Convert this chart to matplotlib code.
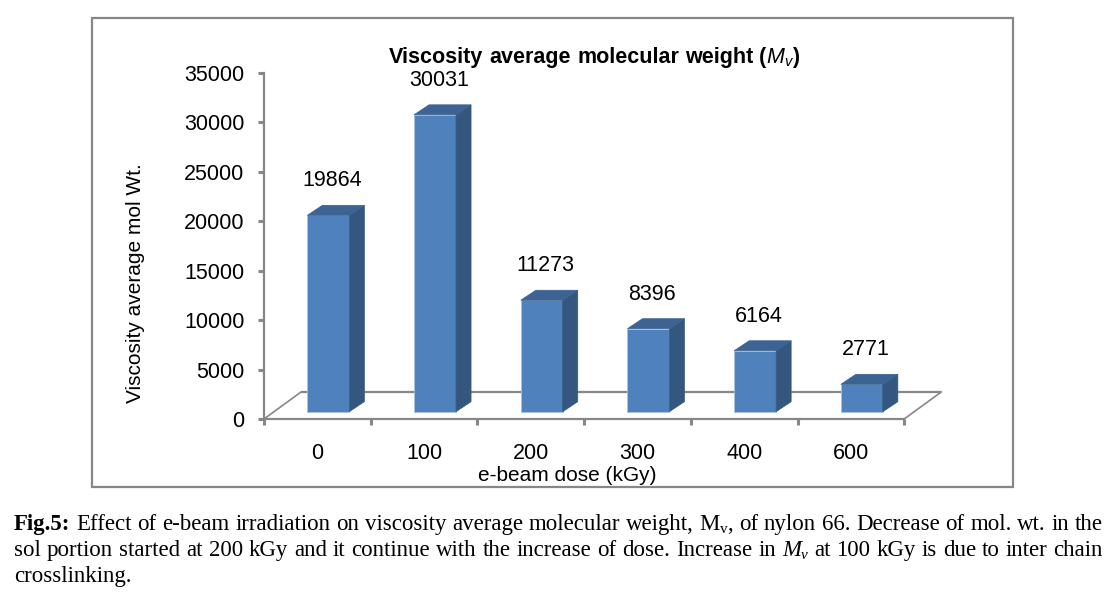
import matplotlib
matplotlib.use('Agg')
import matplotlib.pyplot as plt
from matplotlib.patches import Polygon, Rectangle

# ---------------- data ----------------
doses = ['0', '100', '200', '300', '400', '600']
mol_wt = [19864, 30031, 11273, 8396, 6164, 2771]
y_ticks = [0, 5000, 10000, 15000, 20000, 25000, 30000, 35000]
title_main = 'Viscosity average molecular weight ('
x_label = 'e-beam dose (kGy)'
y_label = 'Viscosity average mol Wt.'

# ---------------- style ----------------
W, H = 1119, 596
DPI = 100
plt.rcParams['font.family'] = ['Liberation Sans', 'DejaVu Sans']
GRAY = '#878787'
FRONT = '#4F81BD'
SIDE = '#34577F'
TOP = '#3C6392'

fig = plt.figure(figsize=(W / DPI, H / DPI), dpi=DPI)
fig.patch.set_facecolor('white')

PX_X = 106.7            # pixels per category
PX_Y = 346 / 35000      # pixels per value unit
X0_PX, Y0_PX = 264, 419
XLIM = (-0.5, 6.9)
YLIM = (0, 36500)
AX_W_PX = (XLIM[1] - XLIM[0]) * PX_X
AX_H_PX = (YLIM[1] - YLIM[0]) * PX_Y
ax = fig.add_axes([X0_PX / W, (H - Y0_PX) / H, AX_W_PX / W, AX_H_PX / H])
ax.set_xlim(*XLIM)
ax.set_ylim(*YLIM)
ax.patch.set_alpha(0)

# 3D geometry (in data units)
dX = 37 / PX_X      # floor depth x
dY = 27 / PX_Y      # floor depth y
bdx = 15 / PX_X     # bar depth x
bdy = 10 / PX_Y     # bar depth y
bw = 42 / PX_X      # bar width
fx = dX / 2 - bdx / 2
fy = dY / 2 - bdy / 2 - 120

n = len(doses)
xs = list(range(n))

# floor
xr = n - 0.5
floor = Polygon([(-0.5, 0), (xr, 0), (xr + dX, dY), (-0.5 + dX, dY)],
                closed=True, facecolor='white', edgecolor='none', zorder=1)
ax.add_patch(floor)
ax.plot([-0.5 + dX, xr + dX], [dY, dY], color=GRAY, lw=1.6, zorder=1.5, solid_capstyle='butt')
ax.plot([-0.5, -0.5 + dX], [0, dY], color=GRAY, lw=1.2, zorder=1.5)
ax.plot([xr, xr + dX], [0, dY], color=GRAY, lw=1.2, zorder=1.5)

# bars (front faces)
ax.bar([x + fx for x in xs], mol_wt, width=bw, bottom=fy, color=FRONT,
       edgecolor='#A9C2E0', linewidth=0.6, zorder=3)
for x, v in zip(xs, mol_wt):
    xl = x + fx - bw / 2
    xr_ = x + fx + bw / 2
    top = fy + v
    ax.add_patch(Polygon([(xr_, fy), (xr_ + bdx, fy + bdy), (xr_ + bdx, top + bdy), (xr_, top)],
                         closed=True, facecolor=SIDE, edgecolor=SIDE, lw=0.5, zorder=3))
    ax.add_patch(Polygon([(xl, top), (xr_, top), (xr_ + bdx, top + bdy), (xl + bdx, top + bdy)],
                         closed=True, facecolor=TOP, edgecolor=TOP, lw=0.5, zorder=3))
    ax.annotate(f'{v}', xy=(x + fx + bdx / 4, top + bdy), xytext=(0, 10),
                textcoords='offset points', ha='center', va='bottom', fontsize=15.5,
                color='black', zorder=5)

# axes
for s in ['top', 'right']:
    ax.spines[s].set_visible(False)
ax.spines['left'].set_bounds(0, 35000)
ax.spines['bottom'].set_bounds(-0.5, n - 0.5)
for s in ['left', 'bottom']:
    ax.spines[s].set_color(GRAY)
    ax.spines[s].set_linewidth(1.6)
    ax.spines[s].set_zorder(2)
ax.set_yticks(y_ticks)
ax.set_yticklabels([str(t) for t in y_ticks])
ax.tick_params(axis='y', direction='out', length=4, width=2.2, color=GRAY,
               labelsize=15.5, pad=10)
ax.set_xticks(xs)
ax.set_xticklabels(doses)
ax.set_xticks([x - 0.5 for x in range(n + 1)], minor=True)
ax.tick_params(axis='x', which='major', length=0, labelsize=15.5, pad=17)
ax.tick_params(axis='x', which='minor', direction='out', length=4, width=2.2, color=GRAY)
ax.set_xlabel(x_label, fontsize=15)
ax.xaxis.set_label_coords((567 - X0_PX) / AX_W_PX, -47 / AX_H_PX)
ax.set_ylabel(y_label, fontsize=15)
ax.yaxis.set_label_coords((145 - X0_PX) / AX_W_PX, (Y0_PX - 283) / AX_H_PX)

# outer chart box
fig.add_artist(Rectangle((92 / W, 1 - 487 / H), (1013 - 92) / W, (487 - 18) / H,
                         transform=fig.transFigure, fill=False, edgecolor=GRAY, lw=1.6))

renderer = fig.canvas.get_renderer()


def measure(txt, props):
    t = fig.text(0, 0, txt, **props)
    w = t.get_window_extent(renderer).width
    t.remove()
    return w


def draw_runs(runs, x_px, base_px, target=None, align='left'):
    """runs: list of (text, props, dy_px). Justify if target given."""
    items = []
    for txt, props, dy in runs:
        parts = txt.split(' ')
        for i, p in enumerate(parts):
            if i > 0:
                items.append(('space', props))
            if p:
                items.append(('word', p, props, dy))
    widths = []
    nsp = 0
    space_w = None
    for it in items:
        if it[0] == 'word':
            widths.append(measure(it[1], it[2]))
        else:
            nsp += 1
            if space_w is None:
                space_w = measure('a a', it[1]) - measure('aa', it[1])
            widths.append(None)
    total_words = sum(w for w in widths if w is not None)
    if target is not None and nsp > 0:
        gap = (target - total_words) / nsp
    else:
        gap = space_w if space_w is not None else 0
    total = total_words + gap * nsp
    x = x_px - total / 2 if align == 'center' else x_px
    for it, w in zip(items, widths):
        if it[0] == 'word':
            _, txt, props, dy = it
            fig.text(x / W, 1 - (base_px - dy) / H, txt, va='baseline', ha='left', **props)
            x += w
        else:
            x += gap


# title
sans = ['Liberation Sans', 'DejaVu Sans']
tb = dict(fontsize=15.5, fontweight='bold', family=sans)
ti = dict(fontsize=15.5, fontstyle='italic', family=sans)
ts = dict(fontsize=10.5, fontstyle='italic', family=sans)
draw_runs([(title_main, tb, 0), ('M', ti, 0), ('v', ts, -3), (')', tb, 0)],
          594, 63, align='center')

# caption
serif = ['Liberation Serif', 'DejaVu Serif']
FS = 16.5
cn = dict(fontsize=FS, family=serif)
cb = dict(fontsize=FS, family=serif, fontweight='bold')
ci = dict(fontsize=FS, family=serif, fontstyle='italic')
csub = dict(fontsize=11, family=serif)
csubi = dict(fontsize=11, family=serif, fontstyle='italic')
cap_x = 14
cap_w = 1103 - 14
draw_runs([('Fig.5:', cb, 0),
           (' Effect of e-beam irradiation on viscosity average molecular weight, M', cn, 0),
           ('v', csub, -3),
           (', of nylon 66. Decrease of mol. wt. in the', cn, 0)],
          cap_x, 530, target=cap_w)
draw_runs([('sol portion started at 200 kGy and it continue with the increase of dose. Increase in ', cn, 0),
           ('M', ci, 0), ('v', csubi, -3),
           (' at 100 kGy is due to inter chain', cn, 0)],
          cap_x, 556, target=cap_w)
draw_runs([('crosslinking.', cn, 0)], cap_x, 582)

fig.savefig('out.png', dpi=DPI, facecolor='white')
